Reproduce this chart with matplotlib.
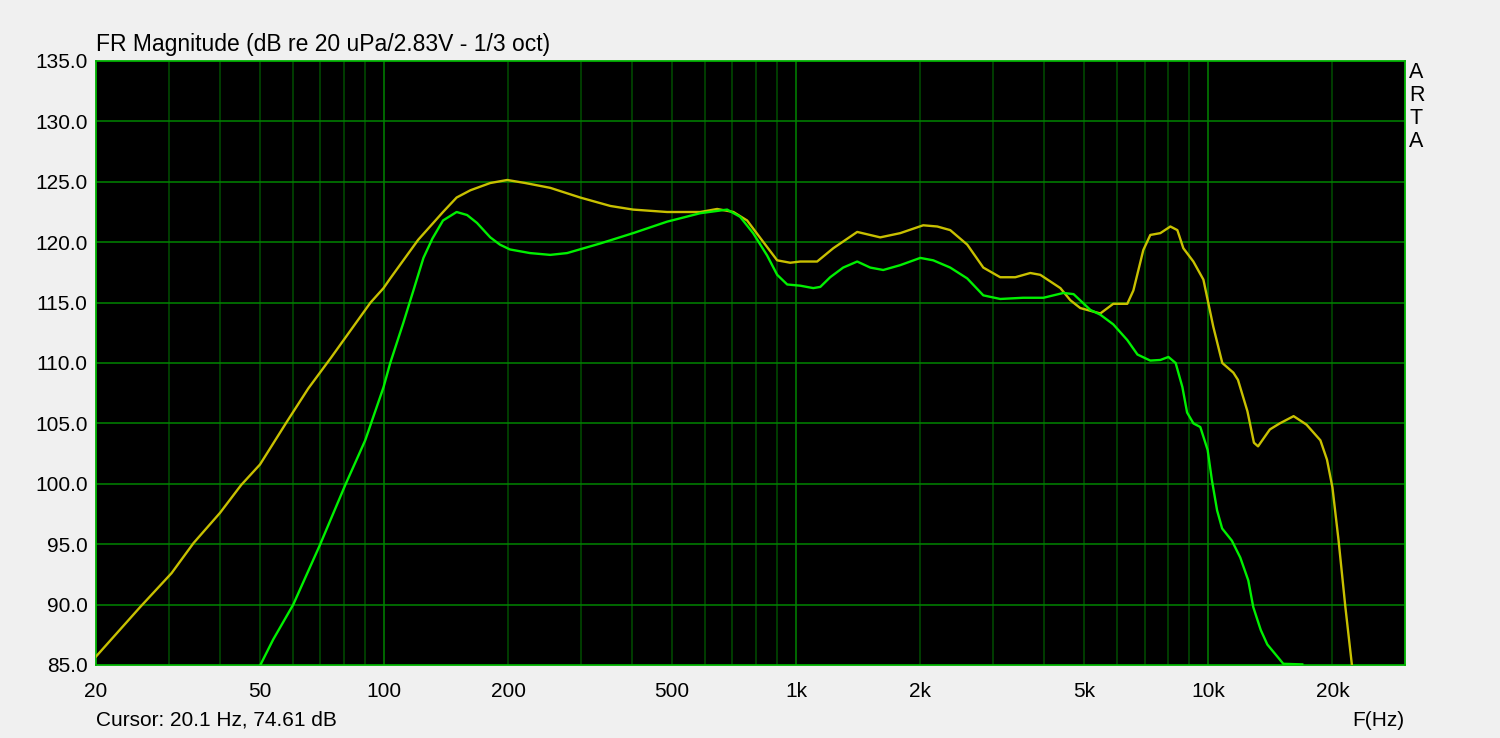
import matplotlib.pyplot as plt

# Yellow trace (frequency in Hz, level in dB)
yellow_f = [20, 25.6, 30.5, 34.5, 40, 45, 50, 58, 65.5, 74.2, 92.7, 99.7, 103.5,
            121, 139, 150, 162, 181, 199, 220, 253, 299, 354, 402, 486, 585, 643,
            704, 760, 818, 899, 967, 1023, 1124, 1230, 1406, 1599, 1788, 2033,
            2199, 2364, 2600, 2844, 3126, 3401, 3698, 3910, 4375, 4624, 4888,
            5468, 5878, 6357, 6577, 6953, 7230, 7646, 8088, 8410, 8696, 9196,
            9727, 10280, 10810, 11500, 11800, 12440, 12900, 13200, 14100, 14900,
            16100, 17300, 18700, 19400, 20000, 20700, 21500, 22300, 23000]
yellow_db = [85.7, 89.8, 92.6, 95.1, 97.6, 99.9, 101.6, 105.1, 107.9, 110.4, 115.0,
             116.2, 117.0, 120.2, 122.5, 123.7, 124.3, 124.9, 125.15, 124.9, 124.5,
             123.7, 123.0, 122.7, 122.5, 122.5, 122.75, 122.5, 121.8, 120.35, 118.5,
             118.3, 118.4, 118.4, 119.5, 120.85, 120.4, 120.75, 121.4, 121.3, 121.0,
             119.8, 117.9, 117.1, 117.1, 117.45, 117.3, 116.2, 115.2, 114.55, 114.1,
             114.9, 114.9, 116.0, 119.35, 120.6, 120.75, 121.3, 121.0, 119.5, 118.4,
             116.9, 113.0, 110.0, 109.2, 108.6, 106.0, 103.4, 103.1, 104.5, 105.0,
             105.6, 104.9, 103.6, 102.0, 99.7, 95.3, 89.8, 85.0, 80.0]

# Green trace
green_f = [47, 50.1, 53.8, 60.2, 69.8, 80.5, 90, 99.7, 103.5, 111.3, 117.8, 124.6,
           131, 139, 150, 159, 168, 181, 191, 202, 226, 253, 278, 335, 402, 486,
           585, 680, 731, 786, 850, 899, 951, 1023, 1100, 1144, 1209, 1300, 1406,
           1512, 1626, 1788, 2000, 2150, 2364, 2600, 2844, 3126, 3550, 3980, 4450,
           4710, 5170, 5468, 5878, 6357, 6730, 7230, 7646, 8000, 8330, 8650, 8880,
           9200, 9560, 9960, 10200, 10500, 10800, 11400, 11950, 12500, 12850,
           13400, 13900, 14700, 15200, 16900]
green_db = [83.0, 85.0, 87.1, 90.0, 94.9, 99.9, 103.6, 108.0, 110.0, 113.3, 116.0,
            118.7, 120.3, 121.8, 122.5, 122.25, 121.6, 120.4, 119.8, 119.4, 119.1,
            118.95, 119.1, 119.9, 120.75, 121.7, 122.4, 122.7, 122.1, 120.75, 118.9,
            117.3, 116.5, 116.4, 116.2, 116.3, 117.1, 117.9, 118.4, 117.9, 117.7,
            118.1, 118.7, 118.5, 117.9, 117.0, 115.6, 115.3, 115.4, 115.4, 115.8,
            115.7, 114.4, 114.0, 113.2, 111.9, 110.7, 110.2, 110.25, 110.5, 110.0,
            108.0, 105.9, 105.0, 104.7, 102.8, 100.3, 97.8, 96.3, 95.3, 93.9, 92.0,
            89.8, 87.9, 86.7, 85.7, 85.1, 85.05]

x_ticks = [20, 50, 100, 200, 500, 1000, 2000, 5000, 10000, 20000]
x_labels = ['20', '50', '100', '200', '500', '1k', '2k', '5k', '10k', '20k']
y_ticks = [85, 90, 95, 100, 105, 110, 115, 120, 125, 130, 135]

plt.rcParams['font.family'] = ['Liberation Sans', 'DejaVu Sans']

fig = plt.figure(figsize=(15, 7.38), dpi=100, facecolor='#f0f0f0')
ax = fig.add_axes([96 / 1500, 1 - 665 / 738, 1309 / 1500, 604 / 738])
ax.set_facecolor('black')
ax.set_xscale('log')
ax.set_xlim(20, 30000)
ax.set_ylim(85, 135)

# grid: decades and horizontal lines brighter, other verticals darker
minor_f = [m * d for d in (10, 100, 1000, 10000) for m in range(2, 10)
           if 20 <= m * d <= 30000]
for f in minor_f:
    ax.axvline(f, color='#004e00', linewidth=1.1, zorder=1)
for f in (100, 1000, 10000):
    ax.axvline(f, color='#008400', linewidth=1.1, zorder=1)
for y in y_ticks[1:-1]:
    ax.axhline(y, color='#008400', linewidth=1.1, zorder=1)

ax.plot(yellow_f, yellow_db, color='#c8c000', linewidth=1.7, zorder=3)
ax.plot(green_f, green_db, color='#00f000', linewidth=1.7, zorder=4)

ax.set_xticks(x_ticks)
ax.set_xticklabels(x_labels)
ax.minorticks_off()
ax.set_yticks(y_ticks)
ax.set_yticklabels(['%.1f' % v for v in y_ticks])
ax.tick_params(length=0, labelsize=15, colors='black')
ax.tick_params(axis='x', pad=12)
ax.tick_params(axis='y', pad=6)
for s in ax.spines.values():
    s.set_color('#00b000')
    s.set_linewidth(1.3)

fig.text(96 / 1500, 1 - 51 / 738, 'FR Magnitude (dB re 20 uPa/2.83V - 1/3 oct)',
         fontsize=16.5, ha='left', va='baseline')
fig.text(1409 / 1500, 1 - 62 / 738, 'A\nR\nT\nA', fontsize=15.5, ha='left',
         va='top', linespacing=1.13)
fig.text(96 / 1500, 1 - 720 / 738, 'Cursor: 20.1 Hz, 74.61 dB', fontsize=15,
         ha='left', va='center')
fig.text(1404 / 1500, 1 - 720 / 738, 'F(Hz)', fontsize=15, ha='right',
         va='center')

fig.savefig('out.png', dpi=100, facecolor=fig.get_facecolor())
